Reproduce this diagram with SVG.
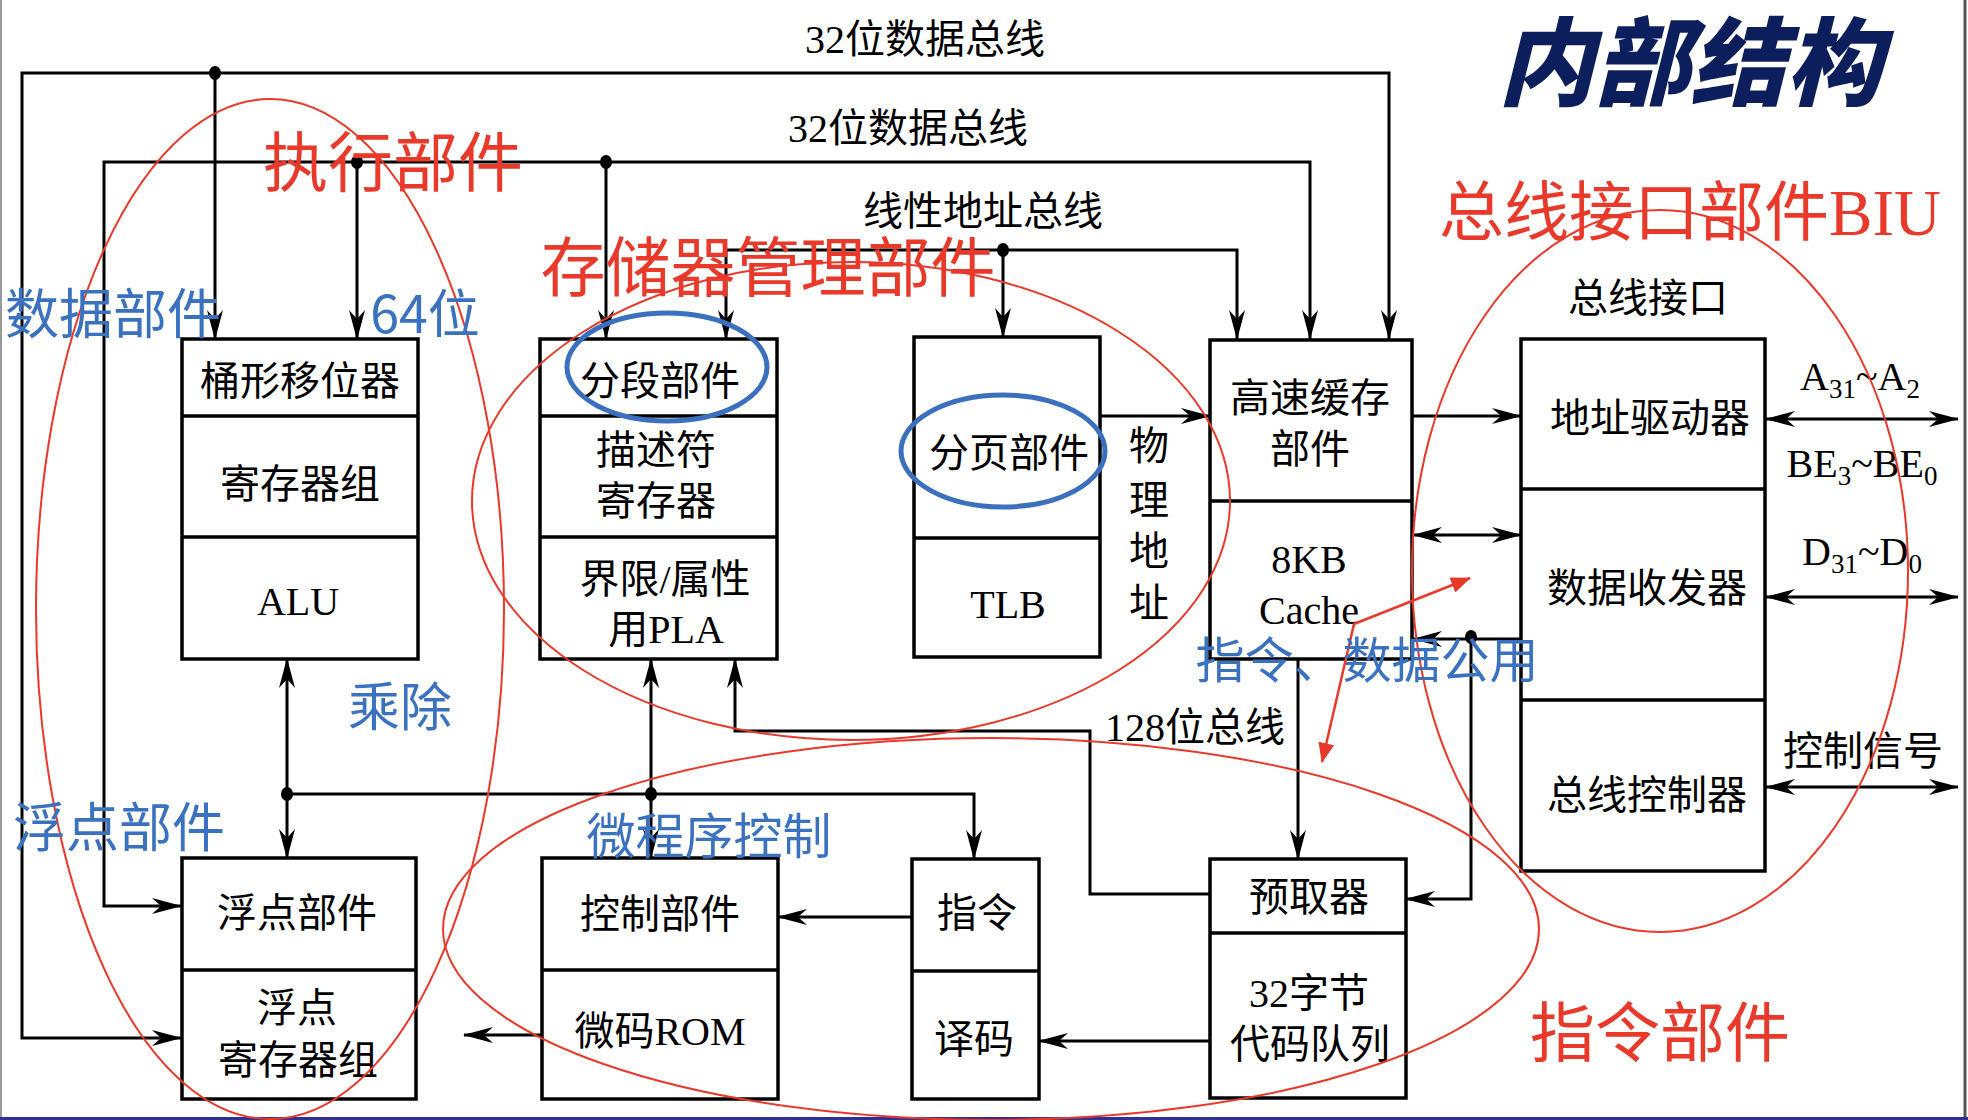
<svg xmlns="http://www.w3.org/2000/svg" width="1968" height="1120" viewBox="0 0 1968 1120">
<defs>
<style>
.box{fill:#fff;stroke:#000;stroke-width:3.5}
.div{stroke:#000;stroke-width:3.5;fill:none}
.ln{fill:none;stroke:#000;stroke-width:3}
.t{font-family:'Liberation Serif','Noto Sans CJK SC',serif;font-size:40px;fill:#000;text-anchor:middle}
.red{font-family:'Noto Sans CJK SC',sans-serif;font-size:65px;fill:#e8392a;text-anchor:middle}
.blue{font-family:'Noto Sans CJK SC',sans-serif;fill:#3a72c0;text-anchor:middle}
.rel{fill:none;stroke:#e8392a;stroke-width:2}
.bel{fill:none;stroke:#3a70bd;stroke-width:5}
.sub{font-size:27px}
</style>
<marker id="ah" viewBox="0 0 30 16" refX="29" refY="8" markerWidth="30" markerHeight="16" orient="auto-start-reverse" markerUnits="userSpaceOnUse">
<path d="M0,0 L30,8 L0,16 L9,8 Z" fill="#000"/>
</marker>
<marker id="ra" viewBox="0 0 20 16" refX="19" refY="8" markerWidth="20" markerHeight="16" orient="auto" markerUnits="userSpaceOnUse">
<path d="M0,0 L20,8 L0,16 Z" fill="#e8392a"/>
</marker>
</defs>
<rect x="0" y="0" width="1968" height="1120" fill="#fff"/>
<line x1="1" y1="0" x2="1" y2="1120" stroke="#9a9a9a" stroke-width="2"/>
<line x1="1965" y1="0" x2="1965" y2="1120" stroke="#555" stroke-width="3"/>
<line x1="0" y1="1118.5" x2="1968" y2="1118.5" stroke="#2e3192" stroke-width="3"/>

<g id="connectors">
<path class="ln" d="M181,1038 H22 V73 H1389 V339" marker-start="url(#ah)" marker-end="url(#ah)"/>
<path class="ln" d="M215,73 V339" marker-end="url(#ah)"/>
<path class="ln" d="M181,906 H104 V162 H1310 V339" marker-start="url(#ah)" marker-end="url(#ah)"/>
<path class="ln" d="M357,162 V339" marker-end="url(#ah)"/>
<path class="ln" d="M606,162 V339" marker-end="url(#ah)"/>
<path class="ln" d="M726,339 V250 H1237 V339" marker-start="url(#ah)" marker-end="url(#ah)"/>
<path class="ln" d="M1003,250 V337" marker-end="url(#ah)"/>
<path class="ln" d="M1100,416 H1210" marker-end="url(#ah)"/>
<path class="ln" d="M1412,416 H1521" marker-end="url(#ah)"/>
<path class="ln" d="M1413,535 H1521" marker-start="url(#ah)" marker-end="url(#ah)"/>
<path class="ln" d="M1521,639 H1413" marker-end="url(#ah)"/>
<path class="ln" d="M1471,639 V899 H1406" marker-end="url(#ah)"/>
<path class="ln" d="M1298,659 V859" marker-end="url(#ah)"/>
<path class="ln" d="M1210,894 H1090 V731 H735 V659" marker-end="url(#ah)"/>
<path class="ln" d="M287,659 V858" marker-start="url(#ah)" marker-end="url(#ah)"/>
<path class="ln" d="M287,794 H974 V859" marker-end="url(#ah)"/>
<path class="ln" d="M651,659 V858" marker-start="url(#ah)" marker-end="url(#ah)"/>
<path class="ln" d="M912,917 H778" marker-end="url(#ah)"/>
<path class="ln" d="M1210,1041 H1039" marker-end="url(#ah)"/>
<path class="ln" d="M542,1035 H464" stroke-width="4" marker-end="url(#ah)"/>
<path class="ln" d="M1766,419 H1958" marker-start="url(#ah)" marker-end="url(#ah)"/>
<path class="ln" d="M1766,597 H1958" marker-start="url(#ah)" marker-end="url(#ah)"/>
<path class="ln" d="M1766,787 H1958" marker-start="url(#ah)" marker-end="url(#ah)"/>
<g fill="#000">
<ellipse cx="215" cy="73" rx="6" ry="7"/>
<ellipse cx="357" cy="162" rx="6" ry="7"/>
<ellipse cx="606" cy="162" rx="6" ry="7"/>
<ellipse cx="1003" cy="250" rx="6" ry="7"/>
<ellipse cx="1471" cy="637" rx="6" ry="7"/>
<ellipse cx="287" cy="794" rx="6" ry="7"/>
<ellipse cx="651" cy="794" rx="6" ry="7"/>
</g>
<text class="t" x="925" y="53">32位数据总线</text>
<text class="t" x="908" y="142">32位数据总线</text>
<text class="t" x="983" y="225">线性地址总线</text>
<text class="t" x="1195" y="741" font-size="34">128位总线</text>
<g class="t">
<text x="1149" y="460">物</text>
<text x="1149" y="514">理</text>
<text x="1149" y="565">地</text>
<text x="1149" y="617">址</text>
</g>
<text class="t" x="1860" y="390">A<tspan class="sub" dy="8">31</tspan><tspan dy="-8">~A</tspan><tspan class="sub" dy="8">2</tspan></text>
<text class="t" x="1862" y="477">BE<tspan class="sub" dy="8">3</tspan><tspan dy="-8">~BE</tspan><tspan class="sub" dy="8">0</tspan></text>
<text class="t" x="1862" y="565">D<tspan class="sub" dy="8">31</tspan><tspan dy="-8">~D</tspan><tspan class="sub" dy="8">0</tspan></text>
<text class="t" x="1863" y="765">控制信号</text>
</g>

<g id="exec-unit">
<rect class="box" x="182" y="339" width="236" height="320"/>
<path class="div" d="M182,416 H418 M182,537 H418"/>
<text class="t" x="300" y="395">桶形移位器</text>
<text class="t" x="300" y="498">寄存器组</text>
<text class="t" x="298" y="615">ALU</text>
</g>
<g id="segment-unit">
<rect class="box" x="540" y="339" width="237" height="320"/>
<path class="div" d="M540,416 H777 M540,537 H777"/>
<text class="t" x="660" y="395">分段部件</text>
<text class="t" x="656" y="464">描述符</text>
<text class="t" x="656" y="515">寄存器</text>
<text class="t" x="665" y="593">界限/属性</text>
<text class="t" x="666" y="643">用PLA</text>
</g>
<g id="paging-unit">
<rect class="box" x="914" y="337" width="186" height="320"/>
<path class="div" d="M914,538 H1100"/>
<text class="t" x="1009" y="467">分页部件</text>
<text class="t" x="1008" y="618">TLB</text>
</g>
<g id="cache-unit">
<rect class="box" x="1210" y="340" width="202" height="319"/>
<path class="div" d="M1210,501 H1412"/>
<text class="t" x="1310" y="412">高速缓存</text>
<text class="t" x="1310" y="463">部件</text>
<text class="t" x="1309" y="573">8KB</text>
<text class="t" x="1309" y="624">Cache</text>
</g>
<g id="bus-interface">
<text class="t" x="1648" y="312">总线接口</text>
<rect class="box" x="1521" y="339" width="244" height="532"/>
<path class="div" d="M1521,489 H1765 M1521,700 H1765"/>
<text class="t" x="1650" y="432">地址驱动器</text>
<text class="t" x="1647" y="602">数据收发器</text>
<text class="t" x="1647" y="809">总线控制器</text>
</g>
<g id="fpu">
<rect class="box" x="182" y="858" width="234" height="241"/>
<path class="div" d="M182,970 H416"/>
<text class="t" x="297" y="927">浮点部件</text>
<text class="t" x="297" y="1022">浮点</text>
<text class="t" x="298" y="1074">寄存器组</text>
</g>
<g id="control-unit">
<rect class="box" x="542" y="858" width="236" height="241"/>
<path class="div" d="M542,970 H778"/>
<text class="t" x="660" y="928">控制部件</text>
<text class="t" x="660" y="1045">微码ROM</text>
</g>
<g id="decode-unit">
<rect class="box" x="912" y="859" width="127" height="240"/>
<path class="div" d="M912,971 H1039"/>
<text class="t" x="977" y="927">指令</text>
<text class="t" x="974" y="1053">译码</text>
</g>
<g id="prefetch-unit">
<rect class="box" x="1210" y="859" width="196" height="239"/>
<path class="div" d="M1210,933 H1406"/>
<text class="t" x="1309" y="911">预取器</text>
<text class="t" x="1309" y="1007">32字节</text>
<text class="t" x="1310" y="1058">代码队列</text>
</g>

<g id="annotations">
<ellipse class="bel" cx="667" cy="367" rx="100" ry="54"/>
<ellipse class="bel" cx="1003" cy="451" rx="102" ry="56"/>
<ellipse class="rel" cx="270" cy="609" rx="234" ry="510"/>
<ellipse class="rel" cx="851" cy="501" rx="379" ry="239"/>
<ellipse class="rel" cx="1660" cy="571" rx="248" ry="361"/>
<ellipse class="rel" cx="991" cy="929" rx="548" ry="191"/>
<path d="M1354,624 L1470,578" stroke="#e8392a" stroke-width="2.5" fill="none" marker-end="url(#ra)"/>
<path d="M1354,624 L1322,762" stroke="#e8392a" stroke-width="2.5" fill="none" marker-end="url(#ra)"/>
<text class="red" x="393" y="186">执行部件</text>
<text class="red" x="768" y="291">存储器管理部件</text>
<text class="red" x="1690" y="235">总线接口部件<tspan font-family="'Liberation Serif',serif">BIU</tspan></text>
<text class="red" x="1660" y="1056">指令部件</text>
<text class="blue" x="113" y="334" font-size="54">数据部件</text>
<text class="blue" x="425" y="333" font-size="52">64位</text>
<text class="blue" x="400" y="726" font-size="52">乘除</text>
<text class="blue" x="119" y="847" font-size="53">浮点部件</text>
<text class="blue" x="709" y="854" font-size="49">微程序控制</text>
<text class="blue" x="1367" y="678" font-size="49">指令、数据公用</text>
<g transform="translate(1690,98) skewX(-14)">
<text x="0" y="0" font-family="'Noto Sans CJK SC',sans-serif" font-size="96" font-weight="900" fill="#0c1f5c" text-anchor="middle">内部结构</text>
</g>
</g>
</svg>
